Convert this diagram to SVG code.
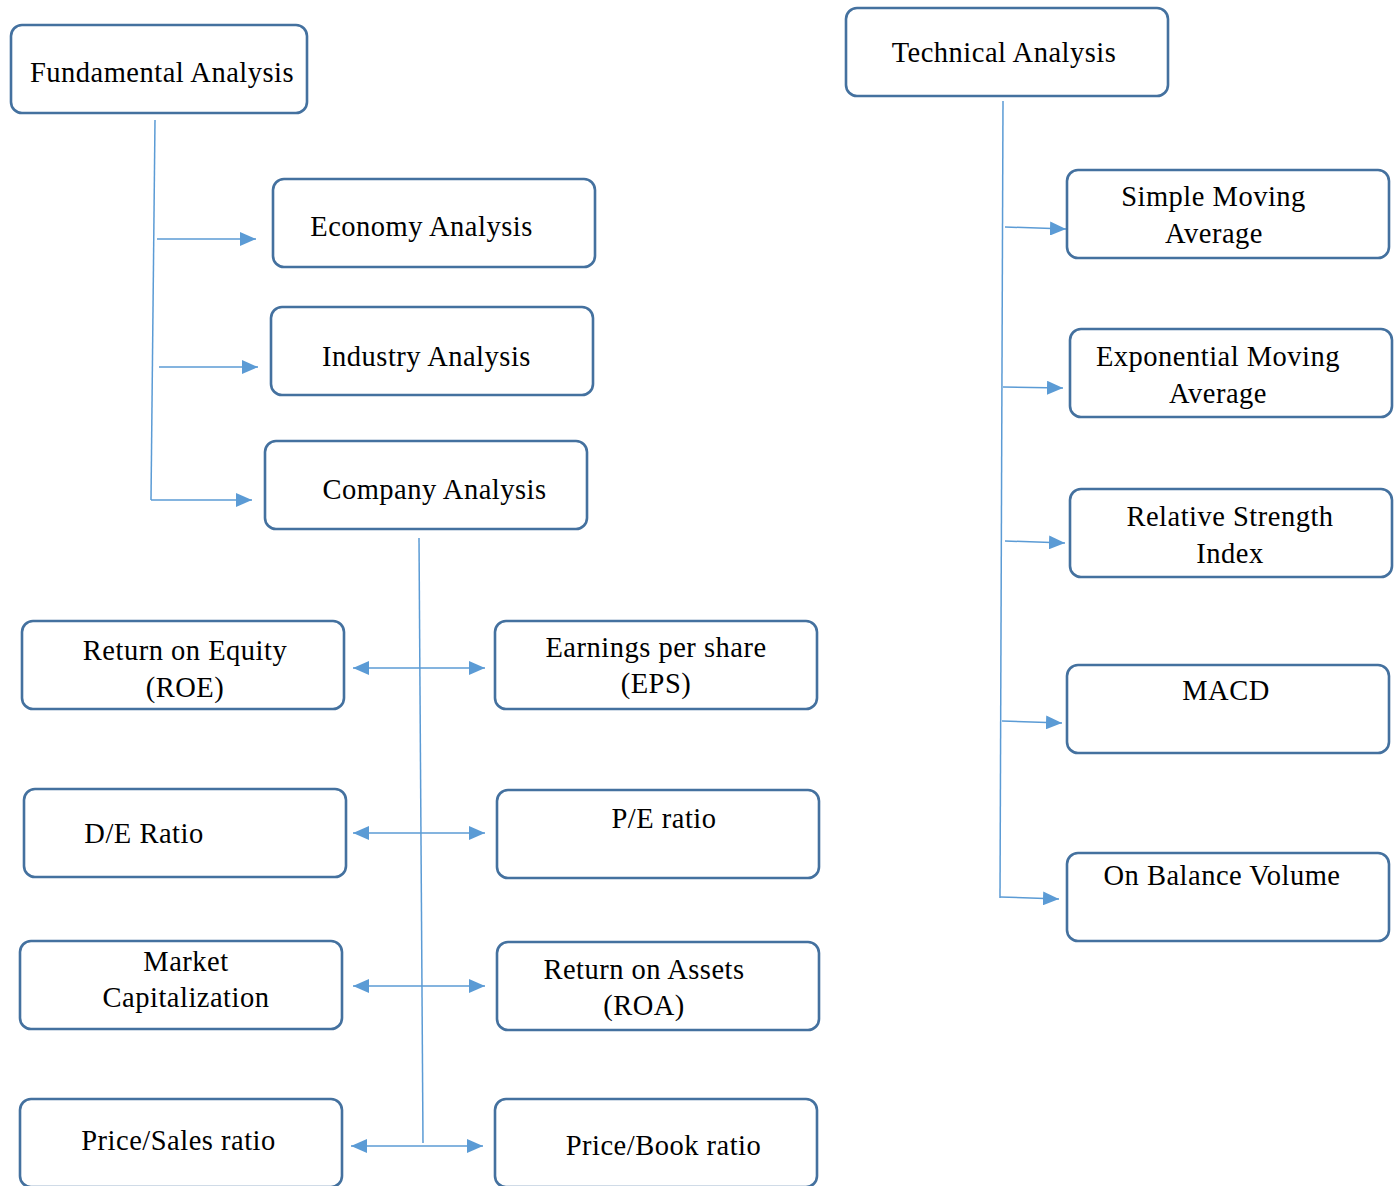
<svg xmlns="http://www.w3.org/2000/svg" width="1400" height="1186" viewBox="0 0 1400 1186">
<defs>
<marker id="ah" viewBox="0 0 16 14" refX="16" refY="7" markerWidth="16" markerHeight="14" markerUnits="userSpaceOnUse" orient="auto-start-reverse">
<path d="M0,0 L16,7 L0,14 Z" fill="#5b9bd5"/>
</marker>
</defs>
<style>
.box{fill:#fff;stroke:#44719f;stroke-width:2.6}
.t{font-family:"Liberation Serif","Times New Roman",serif;font-size:28.5px;letter-spacing:0.5px;fill:#000;text-anchor:middle}
.c{stroke:#5b9bd5;stroke-width:1.5;fill:none}
.a{stroke:#5b9bd5;stroke-width:1.5;fill:none;marker-end:url(#ah)}
.d{stroke:#5b9bd5;stroke-width:1.5;fill:none;marker-end:url(#ah);marker-start:url(#ah)}
</style>
<rect width="1400" height="1186" fill="#fff"/>
<g id="connectors">
<line class="c" x1="155" y1="120" x2="151" y2="500"/>
<line class="a" x1="157" y1="239" x2="256" y2="239"/>
<line class="a" x1="159" y1="367" x2="258" y2="367"/>
<line class="a" x1="151" y1="500" x2="252" y2="500"/>
<line class="c" x1="419" y1="538" x2="423" y2="1143"/>
<line class="d" x1="353" y1="668" x2="485" y2="668"/>
<line class="d" x1="353" y1="833" x2="485" y2="833"/>
<line class="d" x1="353" y1="986" x2="485" y2="986"/>
<line class="d" x1="351" y1="1146" x2="483" y2="1146"/>
<line class="c" x1="1003" y1="101" x2="1000" y2="898"/>
<line class="a" x1="1005" y1="227" x2="1066" y2="229"/>
<line class="a" x1="1003" y1="387" x2="1063" y2="388"/>
<line class="a" x1="1005" y1="541" x2="1065" y2="543"/>
<line class="a" x1="1002" y1="721" x2="1062" y2="723"/>
<line class="a" x1="1000" y1="897" x2="1059" y2="899"/>
</g>
<g id="fundamental"><rect class="box" x="11" y="25" width="296" height="88" rx="11"/><text class="t" x="162" y="82">Fundamental Analysis</text></g>
<g id="technical"><rect class="box" x="846" y="8" width="322" height="88" rx="11"/><text class="t" x="1004" y="62">Technical Analysis</text></g>
<g id="economy"><rect class="box" x="273" y="179" width="322" height="88" rx="11"/><text class="t" x="421.5" y="236">Economy Analysis</text></g>
<g id="industry"><rect class="box" x="271" y="307" width="322" height="88" rx="11"/><text class="t" x="426.5" y="366">Industry Analysis</text></g>
<g id="company"><rect class="box" x="265" y="441" width="322" height="88" rx="11"/><text class="t" x="434.5" y="499">Company Analysis</text></g>
<g id="roe"><rect class="box" x="22" y="621" width="322" height="88" rx="11"/><text class="t" x="185" y="660">Return on Equity</text><text class="t" x="185" y="697">(ROE)</text></g>
<g id="eps"><rect class="box" x="495" y="621" width="322" height="88" rx="11"/><text class="t" x="656" y="657">Earnings per share</text><text class="t" x="656" y="693">(EPS)</text></g>
<g id="de"><rect class="box" x="24" y="789" width="322" height="88" rx="11"/><text class="t" x="144" y="843">D/E Ratio</text></g>
<g id="pe"><rect class="box" x="497" y="790" width="322" height="88" rx="11"/><text class="t" x="664" y="828">P/E ratio</text></g>
<g id="market"><rect class="box" x="20" y="941" width="322" height="88" rx="11"/><text class="t" x="186" y="971">Market</text><text class="t" x="186" y="1007">Capitalization</text></g>
<g id="roa"><rect class="box" x="497" y="942" width="322" height="88" rx="11"/><text class="t" x="644" y="979">Return on Assets</text><text class="t" x="644" y="1015">(ROA)</text></g>
<g id="ps"><rect class="box" x="20" y="1099" width="322" height="88" rx="11"/><text class="t" x="178.5" y="1150">Price/Sales ratio</text></g>
<g id="pb"><rect class="box" x="495" y="1099" width="322" height="88" rx="11"/><text class="t" x="663.5" y="1155">Price/Book ratio</text></g>
<g id="sma"><rect class="box" x="1067" y="170" width="322" height="88" rx="11"/><text class="t" x="1213.5" y="206">Simple Moving</text><text class="t" x="1214" y="243">Average</text></g>
<g id="ema"><rect class="box" x="1070" y="329" width="322" height="88" rx="11"/><text class="t" x="1218" y="366">Exponential Moving</text><text class="t" x="1218" y="403">Average</text></g>
<g id="rsi"><rect class="box" x="1070" y="489" width="322" height="88" rx="11"/><text class="t" x="1230" y="526">Relative Strength</text><text class="t" x="1230" y="563">Index</text></g>
<g id="macd"><rect class="box" x="1067" y="665" width="322" height="88" rx="11"/><text class="t" x="1226" y="700">MACD</text></g>
<g id="obv"><rect class="box" x="1067" y="853" width="322" height="88" rx="11"/><text class="t" x="1222" y="885">On Balance Volume</text></g>
</svg>
